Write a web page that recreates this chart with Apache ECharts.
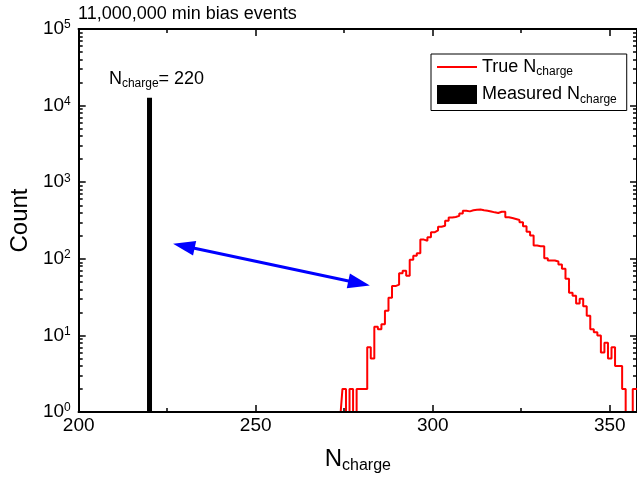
<!DOCTYPE html>
<html>
<head>
<meta charset="utf-8">
<script src="https://cdn.jsdelivr.net/npm/echarts@6/dist/echarts.min.js"></script>
<style>
    html, body { margin: 0; padding: 0; background: #fff; }
    #chart { width: 637px; height: 479px; }
</style>
</head>
<body>
<div id="chart"></div>
<script>
// 直方图数据 (bin 中心, 计数)
const nCharge = [274, 275, 276, 277, 278, 279, 280, 281, 282, 283, 284, 285, 286, 287, 288, 289, 290,
    291, 292, 293, 294, 295, 296, 297, 298, 299, 300, 301, 302, 303, 304, 305, 306, 307, 308, 309, 310,
    311, 312, 313, 314, 315, 316, 317, 318, 319, 320, 321, 322, 323, 324, 325, 326, 327, 328, 329, 330,
    331, 332, 333, 334, 335, 336, 337, 338, 339, 340, 341, 342, 343, 344, 345, 346, 347, 348, 349, 350,
    351, 352, 353, 354, 355, 356, 357, 358];
const trueCounts = [1, 2, 1, 2, 1, 2, 2, 2, 7, 5, 13, 12, 14, 21, 31, 44, 46,
    65, 70, 60, 97, 110, 118, 178, 172, 191, 222, 235, 262, 270, 315, 345, 352, 363, 391, 424, 416,
    430, 437, 440, 430, 424, 415, 404, 396, 412, 410, 348, 340, 331, 321, 299, 266, 226, 201, 149, 146,
    146, 102, 95, 95, 92, 84, 74, 55, 36, 33, 26, 30, 24, 18, 12, 11, 10, 6, 8, 5,
    7, 4, 4, 2, 1, 1, 2, 2];

// 测量值
const measuredN = 220;
const measuredCount = 12700;

// 双向箭头两端 (数据坐标)
const arrowFrom = [229.7, 147];
const arrowTo = [279.2, 48];

// 刻度
const xMin = 200;
const xMax = 357.7;
const xMajor = [200, 250, 300, 350];
const xMinor = [225, 275, 325];
const yMajor = [1, 10, 100, 1000, 10000, 100000];
const yMinor = [2, 3, 4, 5, 6, 7, 8, 9, 20, 30, 40, 50, 60, 70, 80, 90,
    200, 300, 400, 500, 600, 700, 800, 900, 2000, 3000, 4000, 5000, 6000, 7000, 8000, 9000,
    20000, 30000, 40000, 50000, 60000, 70000, 80000, 90000];

const FONT = 'Liberation Sans, Arial, sans-serif';
const subRich = {
    n: { fontFamily: FONT, fontSize: 18, lineHeight: 22, color: '#000' },
    s: { fontFamily: FONT, fontSize: 12, lineHeight: 12, verticalAlign: 'bottom', color: '#000' }
};

function xAxisOf(position, values, len, withLabel) {
    return {
        type: 'value', min: xMin, max: xMax, position: position, z: 10,
        axisLine: { show: true, onZero: false, lineStyle: { color: '#000', width: 2 } },
        axisTick: { show: true, inside: true, length: len, customValues: values, lineStyle: { color: '#000', width: 1.5 } },
        axisLabel: withLabel ? {
            show: true, customValues: values, fontFamily: FONT, fontSize: 19, color: '#000', margin: 4
        } : { show: false },
        splitLine: { show: false }
    };
}

function yAxisOf(position, values, len, withLabel) {
    return {
        type: 'log', logBase: 10, min: 1, max: 100000, position: position,
        axisLine: { show: true, onZero: false, lineStyle: { color: '#000', width: 2 } },
        axisTick: { show: true, inside: true, length: len, customValues: values, lineStyle: { color: '#000', width: 1.5 } },
        axisLabel: withLabel ? {
            show: true, customValues: values, margin: 8,
            formatter: function (v) {
                return '{b|10}{s|' + Math.round(Math.log10(v)) + '}';
            },
            rich: {
                b: { fontFamily: FONT, fontSize: 19, lineHeight: 20, color: '#000' },
                s: { fontFamily: FONT, fontSize: 12, lineHeight: 12, verticalAlign: 'top', color: '#000' }
            }
        } : { show: false },
        splitLine: { show: false }
    };
}

const bottomMajor = xAxisOf('bottom', xMajor, 7, true);
bottomMajor.name = '{n|N}{s|charge}';
bottomMajor.nameLocation = 'middle';
bottomMajor.nameGap = 32;
bottomMajor.nameTextStyle = {
    rich: {
        n: { fontFamily: FONT, fontSize: 24, lineHeight: 30, color: '#000' },
        s: { fontFamily: FONT, fontSize: 16, lineHeight: 16, verticalAlign: 'bottom', color: '#000' }
    }
};

const leftMajor = yAxisOf('left', yMajor, 7, true);
leftMajor.name = 'Count';
leftMajor.nameLocation = 'middle';
leftMajor.nameGap = 41;
leftMajor.nameTextStyle = { fontFamily: FONT, fontSize: 24, color: '#000' };

const chart = echarts.init(document.getElementById('chart'), null, { renderer: 'canvas' });

chart.setOption({
    animation: false,
    backgroundColor: '#fff',
    title: {
        text: '11,000,000 min bias events',
        left: 78, top: 5, padding: 0,
        textStyle: { fontFamily: FONT, fontSize: 18, fontWeight: 'normal', color: '#000' }
    },
    legend: {
        orient: 'vertical',
        left: 431, top: 54,
        width: 197,
        padding: [4, 10, 5, 6],
        itemGap: 7,
        itemWidth: 40, itemHeight: 19,
        borderColor: '#000', borderWidth: 1,
        data: [
            { name: 'True', icon: 'path://M0,0 L40,0 L40,2 L0,2 Z' },
            { name: 'Measured', icon: 'rect' }
        ],
        formatter: function (name) {
            return '{n|' + name + ' N}{s|charge}';
        },
        textStyle: { rich: subRich }
    },
    grid: { left: 76, right: 0, top: 29, bottom: 65, containLabel: false },
    xAxis: [
        bottomMajor,
        xAxisOf('bottom', xMinor, 4, false),
        xAxisOf('top', xMajor, 7, false),
        xAxisOf('top', xMinor, 4, false)
    ],
    yAxis: [
        leftMajor,
        yAxisOf('left', yMinor, 4, false),
        yAxisOf('right', yMajor, 7, false),
        yAxisOf('right', yMinor, 4, false)
    ],
    series: [
        {
            name: 'True',
            type: 'line',
            step: 'middle',
            symbol: 'none',
            color: '#ff0000',
            lineStyle: { color: '#ff0000', width: 2 },
            data: nCharge.map((n, i) => [n, trueCounts[i]]),
            markLine: {
                silent: true,
                label: { show: false },
                lineStyle: { color: '#0000ff', width: 3, type: 'solid' },
                data: [[
                    { coord: arrowFrom, symbol: 'triangle', symbolSize: [15, 22] },
                    { coord: arrowTo, symbol: 'triangle', symbolSize: [15, 22] }
                ]]
            }
        },
        {
            name: 'Measured',
            type: 'line',
            symbol: 'none',
            color: '#000',
            lineStyle: { color: '#000', width: 5, cap: 'butt' },
            data: [[measuredN, 1], [measuredN, measuredCount]],
            markPoint: {
                silent: true,
                symbol: 'circle',
                symbolSize: 0,
                label: {
                    show: true, position: 'top', distance: 8, offset: [7, 0],
                    formatter: '{n|N}{s|charge}{n|= ' + measuredN + '}',
                    rich: subRich
                },
                data: [{ coord: [measuredN, measuredCount] }]
            }
        }
    ]
});
</script>
</body>
</html>
